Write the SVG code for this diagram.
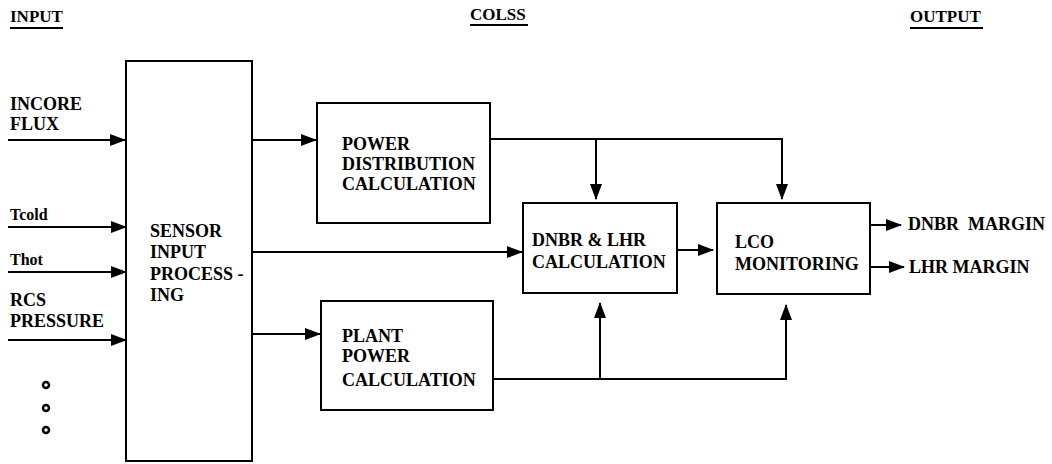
<svg xmlns="http://www.w3.org/2000/svg" width="1052" height="464" viewBox="0 0 1052 464" font-family="Liberation Serif, DejaVu Serif, serif" font-weight="bold">
<defs>
<marker id="ah" markerUnits="userSpaceOnUse" markerWidth="16" markerHeight="12" refX="15" refY="6" orient="auto">
<path d="M0,0 L16,6 L0,12 Z" fill="#000"/>
</marker>
<style>
.t{font-size:18px}
.h{font-size:17px}
.s{font-size:16px}
.box{fill:#fff;stroke:#000;stroke-width:2}
.c{fill:none;stroke:#000;stroke-width:2}
.a{marker-end:url(#ah)}
.u{stroke:#000;stroke-width:2}
.dot{fill:none;stroke:#000;stroke-width:2.5}
</style>
</defs>
<rect width="1052" height="464" fill="#fff"/>

<g id="titles">
<text class="h" x="10" y="22">INPUT</text>
<line class="u" x1="10" y1="28" x2="63" y2="28"/>
<text class="h" x="470" y="20">COLSS</text>
<line class="u" x1="470" y1="25" x2="528" y2="25"/>
<text class="h" x="910" y="22">OUTPUT</text>
<line class="u" x1="910" y1="28" x2="983" y2="28"/>
</g>

<g id="inputs">
<text class="t" x="10" y="110">INCORE</text>
<text class="t" x="10" y="130">FLUX</text>
<text class="s" x="10" y="220">Tcold</text>
<text class="s" x="10" y="265">Thot</text>
<text class="t" x="10" y="306">RCS</text>
<text class="t" x="10" y="327">PRESSURE</text>
<circle class="dot" cx="46" cy="385" r="3"/>
<circle class="dot" cx="46" cy="408" r="3"/>
<circle class="dot" cx="46" cy="430" r="3"/>
</g>

<g id="sensor">
<rect class="box" x="126" y="61" width="126" height="400"/>
<text class="t" x="150" y="237">SENSOR</text>
<text class="t" x="150" y="258">INPUT</text>
<text class="t" x="150" y="280">PROCESS -</text>
<text class="t" x="150" y="301">ING</text>
</g>

<g id="power-distribution">
<rect class="box" x="317" y="103" width="173" height="120"/>
<text class="t" x="342" y="150">POWER</text>
<text class="t" x="342" y="170">DISTRIBUTION</text>
<text class="t" x="342" y="190">CALCULATION</text>
</g>

<g id="plant-power">
<rect class="box" x="321" y="301" width="172" height="109"/>
<text class="t" x="342" y="342">PLANT</text>
<text class="t" x="342" y="362">POWER</text>
<text class="t" x="342" y="386">CALCULATION</text>
</g>

<g id="dnbr-lhr">
<rect class="box" x="523" y="203" width="154" height="90"/>
<text class="t" x="532" y="246">DNBR &amp; LHR</text>
<text class="t" x="532" y="268">CALCULATION</text>
</g>

<g id="lco">
<rect class="box" x="717" y="203" width="153" height="91"/>
<text class="t" x="735" y="248">LCO</text>
<text class="t" x="735" y="270">MONITORING</text>
</g>

<g id="outputs">
<text class="t" x="908" y="230" xml:space="preserve">DNBR  MARGIN</text>
<text class="t" x="909" y="273">LHR MARGIN</text>
</g>

<g id="connectors">
<line class="c a" x1="8" y1="140" x2="125" y2="140"/>
<line class="c a" x1="8" y1="227" x2="126" y2="227"/>
<line class="c a" x1="8" y1="272" x2="126" y2="272"/>
<line class="c a" x1="8" y1="340" x2="126" y2="340"/>
<line class="c a" x1="252" y1="140" x2="316" y2="140"/>
<line class="c a" x1="252" y1="252" x2="522" y2="252"/>
<line class="c a" x1="252" y1="334" x2="320" y2="334"/>
<line class="c" x1="490" y1="139" x2="783" y2="139"/>
<line class="c a" x1="596" y1="139" x2="596" y2="199"/>
<line class="c a" x1="782" y1="139" x2="782" y2="199"/>
<line class="c" x1="493" y1="379" x2="787" y2="379"/>
<line class="c a" x1="600" y1="379" x2="600" y2="303"/>
<line class="c a" x1="786" y1="379" x2="786" y2="305"/>
<line class="c a" x1="677" y1="250" x2="713" y2="250"/>
<line class="c a" x1="870" y1="225" x2="901" y2="225"/>
<line class="c a" x1="870" y1="267" x2="904" y2="267"/>
</g>
</svg>
